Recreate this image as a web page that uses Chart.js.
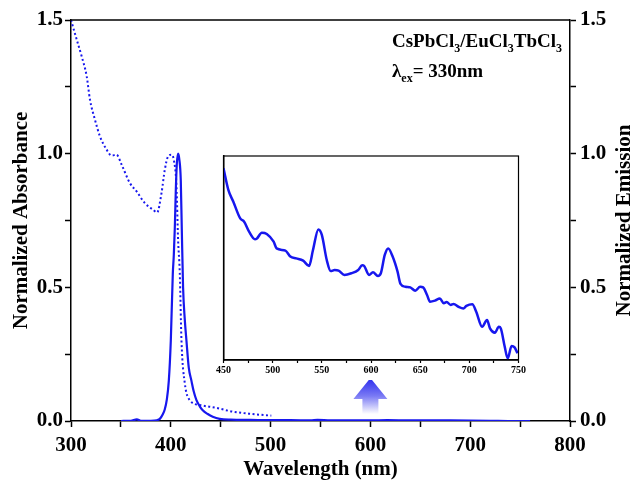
<!DOCTYPE html>
<html>
<head>
<meta charset="utf-8">
<script src="https://cdn.jsdelivr.net/npm/chart.js@4/dist/chart.umd.min.js"></script>
<style>
  html, body { margin: 0; padding: 0; background: #fff; }
  #wrap { position: relative; width: 633px; height: 482px; }
  #main { position: absolute; left: 0; top: 0; }
  #inset { position: absolute; left: 215px; top: 150px; background: #fff; }
</style>
</head>
<body>
<div id="wrap">
  <canvas id="main" width="633" height="482"></canvas>
  <canvas id="inset" width="312" height="230"></canvas>
</div>
<script>
// ===== DATA =====
const xTicks = [300, 400, 500, 600, 700, 800]
const yTicks = [0.0, 0.5, 1.0, 1.5]
const insetTicks = [450, 500, 550, 600, 650, 700, 750]

// emission (solid)
const emWl  = [350, 360, 366, 370, 380, 386, 389, 392, 394, 396, 398, 400, 402, 403, 404, 405, 406, 407.3, 408.5, 410, 411, 412.3, 414, 415.7, 418, 420.7, 423, 425.7, 429, 432, 437, 442, 449, 460, 480, 500, 520, 540, 547, 560, 580, 600, 617, 640, 680, 720, 740, 760]
const emVal = [0, 0.001, 0.006, 0.001, 0.001, 0.003, 0.008, 0.025, 0.044, 0.08, 0.15, 0.30, 0.55, 0.62, 0.72, 0.86, 0.96, 1.0, 0.98, 0.9, 0.72, 0.5, 0.38, 0.30, 0.2, 0.15, 0.11, 0.078, 0.055, 0.04, 0.026, 0.016, 0.008, 0.005, 0.004, 0.003, 0.003, 0.002, 0.004, 0.002, 0.002, 0.002, 0.003, 0.002, 0.002, 0.001, 0.0, 0.0]

// absorbance (dotted)
const abWl  = [300, 305.7, 310.7, 315.7, 319, 324, 329, 335.7, 340.7, 345.7, 350.7, 359, 365.7, 374, 382.3, 386.3, 390.7, 394, 397.3, 400.7, 403, 405.7, 407.3, 409, 410.7, 414, 419, 429, 445.7, 462, 482, 500.7]
const abVal = [1.5, 1.427, 1.364, 1.29, 1.202, 1.127, 1.065, 1.015, 0.993, 0.996, 0.959, 0.89, 0.859, 0.815, 0.79, 0.78, 0.853, 0.94, 0.99, 0.996, 0.977, 0.877, 0.678, 0.554, 0.30, 0.142, 0.078, 0.06, 0.049, 0.035, 0.026, 0.02]

// inset emission (zoomed 450-750)
const inWl  = [450, 455, 460, 467, 471, 476, 482, 484, 489, 494, 501, 504, 513, 518, 524, 531, 537, 541, 546.5, 550, 555, 559, 563, 567, 573, 580, 587, 591, 593, 598, 602, 607, 610, 614, 617.5, 622, 627, 630, 635, 640, 645, 650, 653, 657, 660, 665, 670, 674, 677, 681, 684, 689, 694, 697, 703, 707, 713, 718, 721, 726, 730, 732, 736, 739, 743, 746, 749]
const inVal = [0.94, 0.833, 0.776, 0.694, 0.678, 0.629, 0.592, 0.596, 0.624, 0.618, 0.580, 0.547, 0.536, 0.507, 0.498, 0.487, 0.461, 0.539, 0.640, 0.613, 0.490, 0.436, 0.441, 0.438, 0.417, 0.425, 0.441, 0.464, 0.461, 0.417, 0.430, 0.412, 0.425, 0.515, 0.547, 0.507, 0.433, 0.373, 0.359, 0.356, 0.340, 0.359, 0.356, 0.319, 0.286, 0.291, 0.301, 0.278, 0.284, 0.270, 0.275, 0.261, 0.253, 0.265, 0.273, 0.237, 0.163, 0.196, 0.155, 0.134, 0.163, 0.155, 0.065, 0.008, 0.069, 0.062, 0.033]

const BLUE = "#1717ee"
const FONT = "Liberation Serif"

const pts = (xs, ys) => xs.map((x, i) => ({ x, y: ys[i] }))

// ===== PLUGINS =====
const frame = {
  id: "frame",
  afterDraw(chart) {
    const { ctx, chartArea: a } = chart
    ctx.save()
    ctx.strokeStyle = "#000"
    ctx.lineWidth = 1.5
    ctx.beginPath()
    ctx.moveTo(a.left, a.top)
    ctx.lineTo(a.right, a.top)
    ctx.stroke()
    ctx.restore()
  }
}

function subText(ctx, parts, x, y) {
  // parts: [text, isSub]
  parts.forEach(([t, sub]) => {
    ctx.font = sub ? `bold 12px ${FONT}` : `bold 19px ${FONT}`
    ctx.fillText(t, x, sub ? y + 5 : y)
    x += ctx.measureText(t).width
  })
}

const labels = {
  id: "labels",
  afterDraw(chart) {
    const { ctx, chartArea: a } = chart
    ctx.save()
    ctx.fillStyle = "#000"
    ctx.textBaseline = "alphabetic"
    subText(ctx, [["CsPbCl", 0], ["3", 1], ["/EuCl", 0], ["3", 1], ["TbCl", 0], ["3", 1]], 392, 47)
    subText(ctx, [["\u03BB", 0], ["ex", 1], ["= 330nm", 0]], 392, 77)

    // right axis title, reading bottom to top like the left one
    ctx.save()
    ctx.translate(625, (a.top + a.bottom) / 2)
    ctx.rotate(-Math.PI / 2)
    ctx.font = `bold 21px ${FONT}`
    ctx.textAlign = "center"
    ctx.textBaseline = "middle"
    ctx.fillText("Normalized Emission", 0, 0)
    ctx.restore()

    // arrow pointing up at 600 nm
    const cx = chart.scales.x.getPixelForValue(600)
    const top = 378, neck = 399, bot = 414
    const g = ctx.createLinearGradient(0, top, 0, bot)
    g.addColorStop(0, "#2a2aee")
    g.addColorStop(0.5, "#7a7af4")
    g.addColorStop(1, "#ffffff")
    ctx.fillStyle = g
    ctx.beginPath()
    ctx.moveTo(cx, top)
    ctx.lineTo(cx + 17, neck)
    ctx.lineTo(cx + 8, neck)
    ctx.lineTo(cx + 8, bot)
    ctx.lineTo(cx - 8, bot)
    ctx.lineTo(cx - 8, neck)
    ctx.lineTo(cx - 17, neck)
    ctx.closePath()
    ctx.fill()
    ctx.restore()
  }
}

// ===== MAIN CHART =====
const tickFont = { family: FONT, size: 21, weight: "bold" }
const titleFont = { family: FONT, size: 21, weight: "bold" }

function yAxis(position, title, width, pad) {
  return {
    type: "linear",
    position,
    min: 0, max: 1.5,
    afterFit(s) { s.width = width },
    afterBuildTicks(s) { s.ticks = [0, 0.25, 0.5, 0.75, 1.0, 1.25, 1.5].map(v => ({ value: v })) },
    ticks: {
      color: "#000", font: tickFont, padding: pad,
      callback: v => yTicks.includes(v) ? v.toFixed(1) : ""
    },
    grid: { drawOnChartArea: false, tickLength: 6, tickWidth: 1.5, color: "#000" },
    border: { display: true, color: "#000", width: 1.5 },
    title: { display: !!title, text: title, color: "#000", font: titleFont, padding: { top: 9, bottom: 0 } }
  }
}

new Chart(document.getElementById("main"), {
  type: "line",
  data: {
    datasets: [
      {
        data: pts(abWl, abVal), yAxisID: "y",
        borderColor: BLUE, borderWidth: 2, borderDash: [2, 2.5],
        pointRadius: 0, cubicInterpolationMode: "monotone"
      },
      {
        data: pts(emWl, emVal), yAxisID: "y2",
        borderColor: BLUE, borderWidth: 2.2,
        pointRadius: 0, cubicInterpolationMode: "monotone"
      }
    ]
  },
  options: {
    responsive: false,
    animation: false,
    layout: { padding: { top: 20 } },
    plugins: { legend: { display: false }, tooltip: { enabled: false } },
    scales: {
      x: {
        type: "linear",
        min: 300, max: 800,
        afterFit(s) { s.height = 61 },
        afterBuildTicks(s) {
          const t = []
          for (let v = 300; v <= 800; v += 50) t.push({ value: v })
          s.ticks = t
        },
        ticks: {
          color: "#000", font: tickFont, padding: 6, maxRotation: 0,
          callback: v => xTicks.includes(v) ? String(v) : ""
        },
        grid: { drawOnChartArea: false, tickLength: 6, tickWidth: 1.5, color: "#000" },
        border: { display: true, color: "#000", width: 1.5 },
        title: { display: true, text: "Wavelength (nm)", color: "#000", font: titleFont, padding: { top: 0, bottom: 0 } }
      },
      y: yAxis("left", "Normalized Absorbance", 71, 2),
      y2: yAxis("right", "", 63, 4)
    }
  },
  plugins: [frame, labels]
})

// ===== INSET CHART =====
new Chart(document.getElementById("inset"), {
  type: "line",
  data: {
    datasets: [{
      data: pts(inWl, inVal),
      borderColor: BLUE, borderWidth: 2.5,
      pointRadius: 0, cubicInterpolationMode: "monotone"
    }]
  },
  options: {
    responsive: false,
    animation: false,
    layout: { padding: { top: 6, right: 8, left: 0 } },
    plugins: { legend: { display: false }, tooltip: { enabled: false } },
    scales: {
      x: {
        type: "linear",
        min: 450, max: 750,
        afterFit(s) { s.height = 20 },
        afterBuildTicks(s) {
          const t = []
          for (let v = 450; v <= 750; v += 25) t.push({ value: v })
          s.ticks = t
        },
        ticks: {
          color: "#000", font: { family: FONT, size: 10, weight: "bold" }, padding: 1, maxRotation: 0,
          callback: v => insetTicks.includes(v) ? String(v) : ""
        },
        grid: { drawOnChartArea: false, tickLength: 3, tickWidth: 1.2, color: "#000" },
        border: { display: true, color: "#000", width: 1.5 }
      },
      y: {
        type: "linear",
        min: 0, max: 1,
        afterFit(s) { s.width = 6 },
        ticks: { display: false },
        grid: { drawOnChartArea: false, drawTicks: false },
        border: { display: true, color: "#000", width: 1.5 }
      }
    }
  },
  plugins: [{
    id: "insetFrame",
    afterDraw(chart) {
      const { ctx, chartArea: a } = chart
      ctx.save()
      ctx.strokeStyle = "#000"
      ctx.lineWidth = 1.2
      ctx.strokeRect(a.left, a.top, a.right - a.left, a.bottom - a.top)
      ctx.restore()
    }
  }]
})
</script>
</body>
</html>
